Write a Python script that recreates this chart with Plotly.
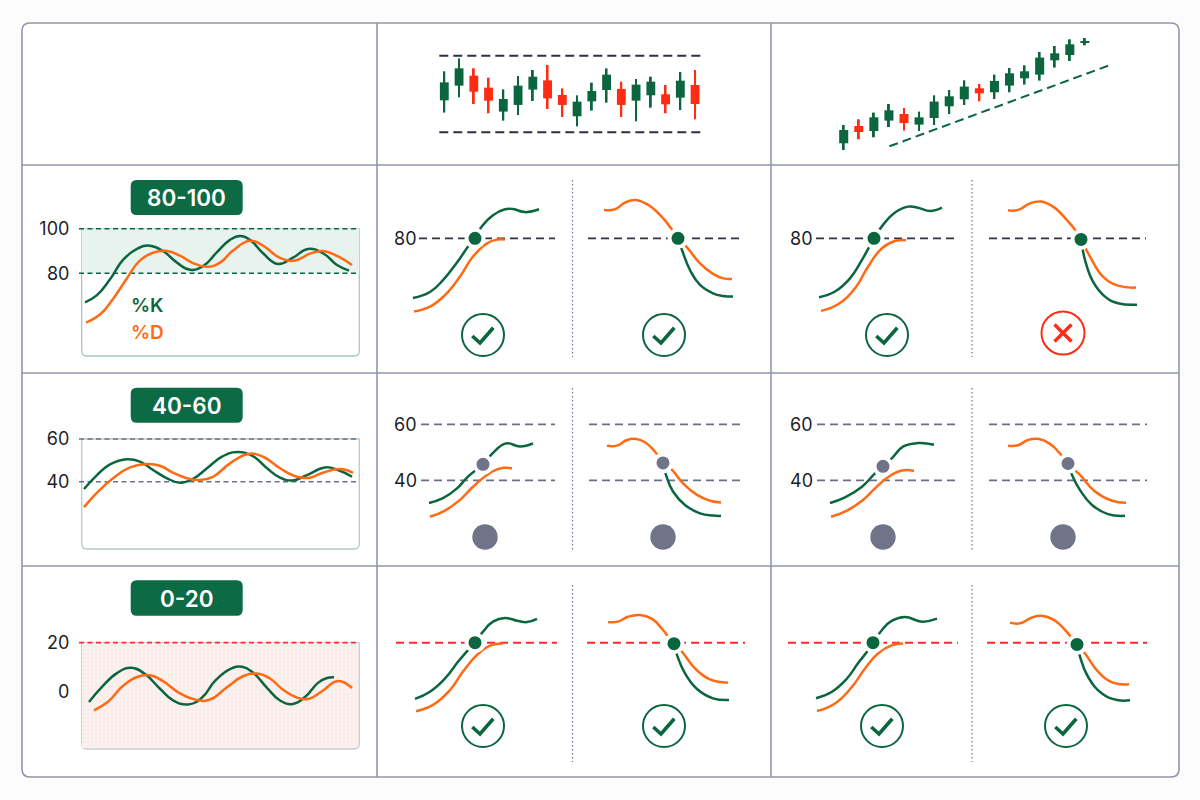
import plotly.graph_objects as go

# ---------- colours ----------
GREEN = "#0b6640"
ORANGE = "#ff6a13"
RED = "#ff2b12"
DASHRED = "#fb2b2b"
NAVY = "#2c3147"
SLATE = "#6a7089"
GREY_DOT = "#6f7488"
FRAME = "#9296a8"
BADGE = "#0c6a45"
FONT = "Inter"

# ---------- candlesticks: range market ----------
range_open = [41.7, 60.9, 73.9, 58.3, 27.0, 35.7, 55.7, 67.8, 48.7, 20.9, 40.4, 55.2, 56.5, 41.3, 48.3, 49.6, 45.2, 61.7]
range_close = [65.2, 83.5, 53.0, 41.3, 43.5, 60.9, 72.6, 44.3, 35.7, 40.0, 53.9, 75.2, 35.7, 62.2, 66.1, 36.5, 67.4, 37.0]
range_high = [79.6, 96.5, 83.5, 71.3, 56.1, 73.5, 81.3, 87.8, 57.4, 48.3, 64.8, 83.5, 66.1, 69.6, 72.6, 61.7, 78.7, 81.3]
range_low = [25.7, 45.7, 37.0, 24.8, 15.2, 22.6, 40.9, 30.4, 20.0, 7.8, 28.3, 38.7, 20.0, 14.3, 32.2, 24.8, 29.1, 17.0]
range_levels = [100, 0]
range_level_x = [-0.34, 17.67]

# ---------- candlesticks: trending market ----------
trend_open = [10.0, 27.3, 22.3, 32.7, 39.3, 28.7, 35.3, 47.0, 54.0, 65.0, 61.0, 67.7, 75.0, 78.7, 93.0, 98.3, 110.7]
trend_close = [23.3, 21.3, 36.0, 43.0, 30.3, 36.0, 51.7, 57.0, 66.7, 60.0, 72.3, 80.0, 82.0, 95.7, 100.0, 109.0, 112.3]
trend_high = [28.3, 34.0, 40.7, 49.3, 45.3, 41.7, 58.0, 63.3, 73.0, 69.3, 78.7, 85.3, 88.0, 101.3, 107.3, 114.0, 115.3]
trend_low = [3.3, 14.0, 16.0, 26.3, 22.7, 22.3, 28.3, 39.3, 48.3, 52.0, 54.3, 61.0, 68.7, 72.7, 85.7, 92.3, 108.0]
trend_line_x = [3.03, 17.74]
trend_line_y = [7.0, 88.7]

# ---------- overview oscillators ----------
ov1_k_t = [55, 67, 80, 93, 107, 120, 133, 147, 160, 173, 187, 200, 210, 220, 233, 248, 263, 278, 293, 307, 319]
ov1_k = [67, 70.2, 77.3, 86, 91, 92.4, 90, 84.8, 81.6, 83.2, 89.5, 95, 96.7, 95, 89, 84.2, 87, 90.9, 89, 83.7, 81.2]
ov1_d_t = [56, 70, 83, 97, 110, 123, 137, 150, 163, 177, 190, 203, 220, 233, 250, 265, 280, 293, 307, 322]
ov1_d = [57.9, 61.5, 68.5, 77.8, 85.8, 89.2, 90, 87.9, 84.6, 82.9, 84.8, 90.2, 94.6, 92.4, 86.9, 85.7, 88.8, 90, 87.8, 83.7]
ov2_k_t = [54, 67, 80, 97, 110, 123, 137, 150, 163, 177, 192, 207, 222, 237, 250, 263, 277, 295, 308, 322]
ov2_k = [36.6, 43.1, 48.1, 50.5, 49.4, 45.5, 41.6, 39.5, 41.3, 46.3, 51.7, 53.9, 52.2, 46.3, 41.9, 40.6, 43.1, 46.7, 45.5, 42.3]
ov2_d_t = [54, 68, 83, 100, 117, 130, 143, 157, 170, 183, 200, 218, 233, 250, 267, 280, 293, 310, 323]
ov2_d = [28.1, 35.3, 41.6, 46.7, 48.3, 47.5, 44.2, 41.6, 40.8, 42.3, 48.6, 53, 51.7, 46.3, 42.3, 41.9, 44.2, 45.9, 44.1]
ov3_k_t = [59, 72, 87, 101, 115, 130, 143, 158, 172, 185, 200, 212, 223, 237, 250, 263, 275, 288, 297, 304]
ov3_k = [-4.2, 2.0, 7.6, 9.8, 7.2, 1.2, -3.5, -5.2, -2.4, 4.4, 9.2, 10.2, 7.8, 1.6, -3.6, -5, -2.2, 3.6, 5.6, 5.9]
ov3_d_t = [64, 78, 93, 107, 120, 133, 150, 167, 180, 197, 213, 227, 240, 253, 267, 278, 292, 308, 322]
ov3_d = [-7.6, -4.1, 2.4, 6.0, 6.7, 4.3, -0.7, -3.4, -3.2, 1.8, 6.3, 7.4, 5.4, 0.8, -2.4, -3, 0.2, 4.4, 1.5]

# ---------- row 80-100, range market ----------
a_k_t = [33, 50, 63, 77, 87, 95, 102, 113, 125, 133, 145, 159]
a_k = [52.9, 55.6, 61, 69, 75.6, 80.5, 85.5, 90.5, 93.2, 93.3, 91.9, 93.2]
a_d_t = [34, 50, 65, 80, 93, 107, 117, 125]
a_d = [46.7, 48.9, 54.2, 62.6, 71.7, 77.7, 79.4, 79.4]
b_d_t = [224, 235, 245, 255, 267, 280, 293, 298, 307, 320, 333, 343, 352]
b_d = [92.9, 93.2, 96.2, 97.4, 95.5, 90.6, 83.3, 80, 75.9, 68.6, 63.8, 61.8, 61.5]
b_k_t = [298, 302, 310, 320, 333, 343, 353]
b_k = [80, 74.7, 65.6, 58.8, 55, 53.8, 53.5]
# ---------- row 80-100, trending market ----------
c_k_t = [44, 60, 75, 87, 99, 108, 120, 133, 143, 155, 167]
c_k = [53.2, 55.8, 61.8, 70.2, 80, 86.1, 91.7, 94.4, 93.9, 92.4, 93.9]
c_d_t = [46, 63, 80, 93, 107, 120, 131]
c_d = [47, 50, 57.3, 67.1, 75.5, 78.8, 79.1]
d_d_t = [233, 243, 255, 266, 278, 292, 302, 306, 315, 328, 343, 361]
d_d = [92.7, 92.9, 95.9, 96.7, 94.4, 88.3, 82.7, 79.5, 71.7, 62.6, 58.5, 57.6]
d_k_t = [306, 310, 318, 330, 343, 362]
d_k = [79.5, 70.2, 60.3, 53.5, 50.5, 49.8]
# ---------- row 40-60, range market ----------
e_k_t = [49, 63, 77, 88, 103, 112, 122, 128, 140, 153]
e_k = [31.9, 33.6, 37.1, 41.3, 45.7, 49.4, 52.6, 53.2, 52.1, 53.2]
e_d_t = [50, 65, 80, 93, 107, 117, 125, 132]
e_d = [27, 29.2, 33, 37.7, 41.9, 43.9, 44.5, 44.2]
f_d_t = [227, 237, 247, 255, 265, 275, 283, 292, 303, 317, 330, 341]
f_d = [52.3, 52.4, 54.4, 54.8, 53.6, 50.2, 46.2, 43.7, 38.9, 34.8, 32.7, 32.1]
f_k_t = [283, 286, 293, 305, 320, 333, 341]
f_k = [46.2, 41.9, 36, 31.2, 28.2, 27.4, 27.3]
# ---------- row 40-60, trending market ----------
g_k_t = [55, 70, 87, 100, 108, 117, 128, 143, 159]
g_k = [31.9, 33.9, 37.7, 42.5, 45, 47.9, 52, 53.3, 52.7]
g_d_t = [56, 72, 87, 100, 113, 127, 139]
g_d = [27, 29.2, 32.7, 37.1, 41.1, 43.5, 43.3]
h_d_t = [233, 243, 253, 263, 275, 287, 293, 305, 320, 337, 351]
h_d = [52.3, 52.5, 54.4, 54.8, 53, 48.7, 46, 41.9, 36, 32.7, 32]
h_k_t = [293, 297, 305, 317, 333, 350]
h_k = [46, 41.9, 36.5, 31.2, 27.9, 27.3]
# ---------- row 0-20, range market ----------
i_k_t = [35, 50, 65, 78, 88, 95, 103, 113, 125, 137, 147, 157]
i_k = [-2.9, 0, 5.4, 12.2, 17, 20, 24.5, 28.6, 30.1, 29, 28.4, 29.7]
i_d_t = [36, 53, 70, 83, 97, 110, 123]
i_d = [-8, -5.4, 0.7, 8.2, 15, 18.8, 19.7]
j_d_t = [228, 238, 248, 260, 272, 283, 294, 302, 315, 330, 348]
j_d = [28.4, 28.6, 30.6, 31.3, 29.7, 25.2, 19.6, 16.3, 9.5, 5, 3.7]
j_k_t = [294, 297, 305, 317, 333, 349]
j_k = [19.6, 15, 7.5, 1.1, -2.7, -3.4]
# ---------- row 0-20, trending market ----------
m_k_t = [41, 57, 72, 83, 92, 98, 107, 117, 130, 147, 162]
m_k = [-2.7, 0, 5.4, 11.6, 16.3, 20, 25.2, 29, 30.5, 28.6, 29.8]
m_d_t = [42, 60, 77, 90, 103, 117, 128]
m_d = [-7.9, -4.8, 2, 9.5, 15.6, 19, 19.7]
n_d_t = [235, 245, 257, 268, 280, 290, 302, 310, 323, 338, 354]
n_d = [28.2, 27.9, 30.3, 30.9, 29, 25.2, 19.3, 15.6, 8.2, 3.7, 3]
n_k_t = [302, 305, 313, 327, 342, 355]
n_k = [19.3, 14.3, 6.1, -0.7, -3.4, -3.5]

# ---------- labels ----------
zone_labels = ["80-100", "40-60", "0-20"]
legend_labels = ["%K", "%D"]
ov1_levels = [100, 80]
ov2_levels = [60, 40]
ov3_levels = [20, 0]

# ---------- canvas helpers (layout only, in window pixels) ----------
W, H = 1200, 800
fig = go.Figure()
layout = {}
shapes = []
annotations = []
n_axes = [0]


def add_axes(x0, x1, y0, y1, xr, yr, ticks=None, inside=False, ticklen=4, fsize=18):
    n_axes[0] += 1
    n = n_axes[0]
    sx = "" if n == 1 else str(n)
    layout["xaxis" + sx] = dict(domain=[x0 / W, x1 / W], range=xr, visible=False, fixedrange=True,
                                anchor="y" + sx, type="linear")
    ya = dict(domain=[1 - y1 / H, 1 - y0 / H], range=yr, fixedrange=True, anchor="x" + sx, showgrid=False,
              zeroline=False, showline=False, type="linear", automargin=False)
    if ticks:
        ya.update(tickmode="array", tickvals=ticks, ticktext=[str(t) for t in ticks],
                  tickfont=dict(family=FONT, size=fsize, color="#1c1f2b"))
        if inside:
            ya.update(ticklabelposition="inside", ticks="", ticklen=0)
        else:
            ya.update(ticks="outside", ticklen=ticklen, tickcolor="rgba(0,0,0,0)")
    else:
        ya.update(showticklabels=False, ticks="")
    layout["yaxis" + sx] = ya
    return "x" + sx, "y" + sx


def px(x):
    return x / W


def py(y):
    return 1 - y / H


def paper_line(x0, y0, x1, y1, color, width, dash=None):
    shapes.append(dict(type="line", xref="paper", yref="paper", x0=px(x0), x1=px(x1), y0=py(y0), y1=py(y1),
                       line=dict(color=color, width=width, dash=dash)))


def paper_path(points, color, width):
    d = "M " + " L ".join(f"{px(a):.5f},{py(b):.5f}" for a, b in points)
    shapes.append(dict(type="path", xref="paper", yref="paper", path=d, line=dict(color=color, width=width)))


def circle(cx, cy, r, line=None, fill=None, width=2):
    shapes.append(dict(type="circle", xref="paper", yref="paper", x0=px(cx - r), x1=px(cx + r), y0=py(cy + r),
                       y1=py(cy - r), line=dict(color=line, width=width if line else 0), fillcolor=fill or "rgba(0,0,0,0)"))


def rounded(x0, y0, x1, y1, r, fill=None, line=None, width=1, top_square=False):
    tl = 0 if top_square else r
    d = (f"M {px(x0 + tl)},{py(y0)} L {px(x1 - tl)},{py(y0)} Q {px(x1)},{py(y0)} {px(x1)},{py(y0 + tl)} "
         f"L {px(x1)},{py(y1 - r)} Q {px(x1)},{py(y1)} {px(x1 - r)},{py(y1)} L {px(x0 + r)},{py(y1)} "
         f"Q {px(x0)},{py(y1)} {px(x0)},{py(y1 - r)} L {px(x0)},{py(y0 + tl)} Q {px(x0)},{py(y0)} {px(x0 + tl)},{py(y0)} Z")
    shapes.append(dict(type="path", xref="paper", yref="paper", path=d, fillcolor=fill or "rgba(0,0,0,0)",
                       line=dict(color=line or "rgba(0,0,0,0)", width=width if line else 0), layer="below"))


def line_trace(x, y, color, xa, ya, width=2.5, dash=None, name=None, shape="spline"):
    fig.add_trace(go.Scatter(x=x, y=y, mode="lines", xaxis=xa, yaxis=ya, showlegend=False, name=name,
                             hoverinfo="skip", line=dict(color=color, width=width, dash=dash, shape=shape,
                                                         smoothing=1.3)))


def candles(o, h, l, c, xa, ya):
    idx = list(range(len(o)))
    colors = [GREEN if cc >= oo else RED for oo, cc in zip(o, c)]
    fig.add_trace(go.Bar(x=idx, y=[a - b for a, b in zip(h, l)], base=l, width=0.13, marker=dict(color=colors, line=dict(width=0)),
                         xaxis=xa, yaxis=ya, showlegend=False, hoverinfo="skip"))
    fig.add_trace(go.Bar(x=idx, y=[abs(a - b) for a, b in zip(o, c)], base=[min(a, b) for a, b in zip(o, c)], width=0.6,
                         marker=dict(color=colors, line=dict(width=0)), xaxis=xa, yaxis=ya, showlegend=False,
                         hoverinfo="skip"))


# ---------- frame ----------
rounded(22, 23, 1179, 777, 8, fill="#ffffff", line=FRAME, width=1.6)
for gy in (165, 373, 566):
    paper_line(22, gy, 1179, gy, FRAME, 1.6)
for gx in (377, 771):
    paper_line(gx, 23, gx, 777, FRAME, 1.6)

# ---------- candle panels ----------
xa, ya = add_axes(430, 715, 40, 145, [-0.97, 18.35], [-16.6, 120.5])
candles(range_open, range_high, range_low, range_close, xa, ya)
for lvl in range_levels:
    line_trace(range_level_x, [lvl, lvl], NAVY, xa, ya, width=2, dash="9px,5px", shape="linear")

xa, ya = add_axes(830, 1120, 25, 160, [-0.91, 18.33], [-6.7, 128.3])
candles(trend_open, trend_high, trend_low, trend_close, xa, ya)
line_trace(trend_line_x, trend_line_y, GREEN, xa, ya, width=2, dash="9px,5px", shape="linear")

# ---------- overview column ----------
OV_X = [48, 338]
OV_LEVEL_X = [49, 329]


def overview(top_px, bot_px, lvl_hi, lvl_lo, hi_px, lo_px, levels):
    scale = (lo_px - hi_px) / (lvl_hi - lvl_lo)
    yr = [lvl_lo - (bot_px - lo_px) / scale, lvl_hi + (hi_px - top_px) / scale]
    return add_axes(30 + OV_X[0], 30 + OV_X[1], top_px, bot_px, OV_X, yr, ticks=levels)


# 80-100
rounded(81.7, 229, 359.3, 356, 5, fill="#ffffff", line="#a9c9bb", width=1.3, top_square=True)
shapes.append(dict(type="rect", xref="paper", yref="paper", x0=px(81.7), x1=px(359.3), y0=py(273.3), y1=py(228.7),
                   fillcolor="#e8f2ee", line=dict(width=0), layer="below"))
xa, ya = overview(222, 362, 100, 80, 228.7, 273.3, ov1_levels)
for lvl in ov1_levels:
    line_trace(OV_LEVEL_X, [lvl, lvl], GREEN, xa, ya, width=1.4, dash="5px,3.5px", shape="linear")
line_trace(ov1_k_t, ov1_k, GREEN, xa, ya, name="%K")
line_trace(ov1_d_t, ov1_d, ORANGE, xa, ya, name="%D")

# 40-60
rounded(81.7, 439, 359.3, 549, 5, fill="#ffffff", line="#b4cdc4", width=1.3, top_square=True)
xa, ya = overview(432, 555, 60, 40, 439, 481.7, ov2_levels)
for lvl in ov2_levels:
    line_trace(OV_LEVEL_X, [lvl, lvl], SLATE, xa, ya, width=1.6, dash="5px,3.5px", shape="linear")
line_trace(ov2_k_t, ov2_k, GREEN, xa, ya, name="%K")
line_trace(ov2_d_t, ov2_d, ORANGE, xa, ya, name="%D")

# 0-20
rounded(81.7, 642.7, 359.3, 749, 5, fill="#fbf2f0", line="#c9ccd8", width=1.3, top_square=True)
xa, ya = overview(636, 755, 20, 0, 642.7, 691.7, ov3_levels)
# speckled oversold zone, one bar spanning the panel from the 20 level down
ZONE_BOTTOM = -23
fig.add_trace(go.Bar(x=[189.5], y=[ov3_levels[0] - ZONE_BOTTOM], base=[ZONE_BOTTOM], width=[275], xaxis=xa, yaxis=ya,
                     showlegend=False, hoverinfo="skip",
                     marker=dict(color="#f8f6f6", line=dict(width=0),
                                 pattern=dict(shape=".", size=4, solidity=0.6, fgcolor="#fdebe6", bgcolor="#f8f6f6",
                                              fgopacity=1))))
line_trace(OV_LEVEL_X, [ov3_levels[0], ov3_levels[0]], DASHRED, xa, ya, width=1.8, dash="5px,3.5px", shape="linear")
line_trace(ov3_k_t, ov3_k, GREEN, xa, ya, name="%K")
line_trace(ov3_d_t, ov3_d, ORANGE, xa, ya, name="%D")

# badges and legend labels
for label, (t, b) in zip(zone_labels, [(180, 215), (387.7, 422.7), (580.3, 615.7)]):
    rounded(130.7, t, 242.7, b, 6, fill=BADGE)
    annotations.append(dict(x=px(186.7), y=py((t + b) / 2), xref="paper", yref="paper", text=label, showarrow=False,
                            xanchor="center", yanchor="middle",
                            font=dict(family=FONT, size=22.5, color="#ffffff", weight=600)))
for label, color, yy in zip(legend_labels, [GREEN, ORANGE], [305, 332.5]):
    annotations.append(dict(x=px(128.5), y=py(yy), xref="paper", yref="paper", text=label, showarrow=False,
                            xanchor="left", yanchor="middle",
                            font=dict(family=FONT, size=19, color=color, weight=600)))

# ---------- signal panels ----------
ROWS = {
    1: dict(top=170, bot=365, ref=80, ref_px=238.3, scale=2.2),
    2: dict(top=378, bot=560, ref=40, ref_px=480.3, scale=2.8),
    3: dict(top=572, bot=772, ref=20, ref_px=642.7, scale=2.45),
}
COLS = {2: dict(origin=380, right=390), 3: dict(origin=775, right=400)}


def signal_axes(row, col, ticks=None, t0=11):
    R, C = ROWS[row], COLS[col]
    yr = [R["ref"] - (R["bot"] - R["ref_px"]) / R["scale"], R["ref"] + (R["ref_px"] - R["top"]) / R["scale"]]
    return add_axes(C["origin"] + t0, C["origin"] + C["right"], R["top"], R["bot"], [t0, C["right"]], yr,
                    ticks=ticks, inside=True)


def signal(xa, ya, spans, levels, level_color, series, dots, dot_color, level_width=1.7):
    for span in spans:
        for lvl in levels:
            line_trace(span, [lvl, lvl], level_color, xa, ya, width=level_width, dash="8px,5px", shape="linear")
    for t, v, color, name in series:
        line_trace(t, v, color, xa, ya, name=name)
    for t, v in dots:
        fig.add_trace(go.Scatter(x=[t], y=[v], mode="markers", xaxis=xa, yaxis=ya, showlegend=False, hoverinfo="skip",
                                 marker=dict(size=17, color=dot_color, line=dict(color="#ffffff", width=4))))


xa, ya = signal_axes(1, 2, ticks=[80])
signal(xa, ya, [[39, 175], [208, 361]], [80], NAVY,
       [(a_k_t, a_k, GREEN, "%K"), (a_d_t, a_d, ORANGE, "%D"), (b_k_t, b_k, GREEN, "%K"), (b_d_t, b_d, ORANGE, "%D")],
       [(a_k_t[5], 80), (b_d_t[7], b_d[7])], GREEN)
xa, ya = signal_axes(1, 3, ticks=[80], t0=12)
signal(xa, ya, [[41, 179], [214, 371]], [80], NAVY,
       [(c_k_t, c_k, GREEN, "%K"), (c_d_t, c_d, ORANGE, "%D"), (d_k_t, d_k, GREEN, "%K"), (d_d_t, d_d, ORANGE, "%D")],
       [(c_k_t[4], c_k[4]), (d_d_t[7], d_d[7])], GREEN)
xa, ya = signal_axes(2, 2, ticks=ov2_levels)
signal(xa, ya, [[41, 175], [209, 364]], ov2_levels, SLATE,
       [(e_k_t, e_k, GREEN, "%K"), (e_d_t, e_d, ORANGE, "%D"), (f_k_t, f_k, GREEN, "%K"), (f_d_t, f_d, ORANGE, "%D")],
       [(e_k_t[4], e_k[4]), (f_d_t[6], f_d[6])], GREY_DOT)
xa, ya = signal_axes(2, 3, ticks=ov2_levels, t0=12)
signal(xa, ya, [[42, 181], [214, 372]], ov2_levels, SLATE,
       [(g_k_t, g_k, GREEN, "%K"), (g_d_t, g_d, ORANGE, "%D"), (h_k_t, h_k, GREEN, "%K"), (h_d_t, h_d, ORANGE, "%D")],
       [(g_k_t[4], g_k[4]), (h_d_t[6], h_d[6])], GREY_DOT)
xa, ya = signal_axes(3, 2)
signal(xa, ya, [[16, 177], [207, 365]], [20], DASHRED,
       [(i_k_t, i_k, GREEN, "%K"), (i_d_t, i_d, ORANGE, "%D"), (j_k_t, j_k, GREEN, "%K"), (j_d_t, j_d, ORANGE, "%D")],
       [(i_k_t[5], i_k[5]), (j_d_t[6], j_d[6])], GREEN, level_width=2)
xa, ya = signal_axes(3, 3)
signal(xa, ya, [[13, 183], [212, 372]], [20], DASHRED,
       [(m_k_t, m_k, GREEN, "%K"), (m_d_t, m_d, ORANGE, "%D"), (n_k_t, n_k, GREEN, "%K"), (n_d_t, n_d, ORANGE, "%D")],
       [(m_k_t[5], m_k[5]), (n_d_t[6], n_d[6])], GREEN, level_width=2)

# ---------- dividers and verdict icons ----------
for x in (572.5, 972):
    for (t, b) in [(180, 357), (388, 552), (585, 762)]:
        paper_line(x, t, x, b, "#6d7392", 1.2, dash="1.5px,2.5px")


def check(cx, cy):
    circle(cx, cy, 21, line=GREEN)
    paper_path([(cx - 10.7, cy + 1), (cx - 3, cy + 8), (cx + 10.3, cy - 7.3)], GREEN, 3.6)


def cross(cx, cy):
    circle(cx, cy, 21.5, line=RED)
    paper_path([(cx - 8.5, cy - 8.5), (cx + 8.5, cy + 8.5)], RED, 3.4)
    paper_path([(cx - 8.5, cy + 8.5), (cx + 8.5, cy - 8.5)], RED, 3.4)


for cx, cy in [(483, 335), (664, 335), (887, 335), (483, 726), (664, 726), (882, 726), (1066, 726)]:
    check(cx, cy)
cross(1063, 333)
for cx in (485, 663, 883, 1063):
    circle(cx, 537, 12.7, fill=GREY_DOT)

layout.update(width=W, height=H, margin=dict(l=0, r=0, t=0, b=0, autoexpand=False), paper_bgcolor="#fcfcfc",
              plot_bgcolor="rgba(0,0,0,0)", showlegend=False, barmode="overlay", shapes=shapes,
              annotations=annotations, hovermode=False, font=dict(family=FONT))
fig.update_layout(**layout)
fig.write_html("out.html", config={"displayModeBar": False},
               post_script="document.body.style.margin='0';document.body.style.overflow='hidden';")
